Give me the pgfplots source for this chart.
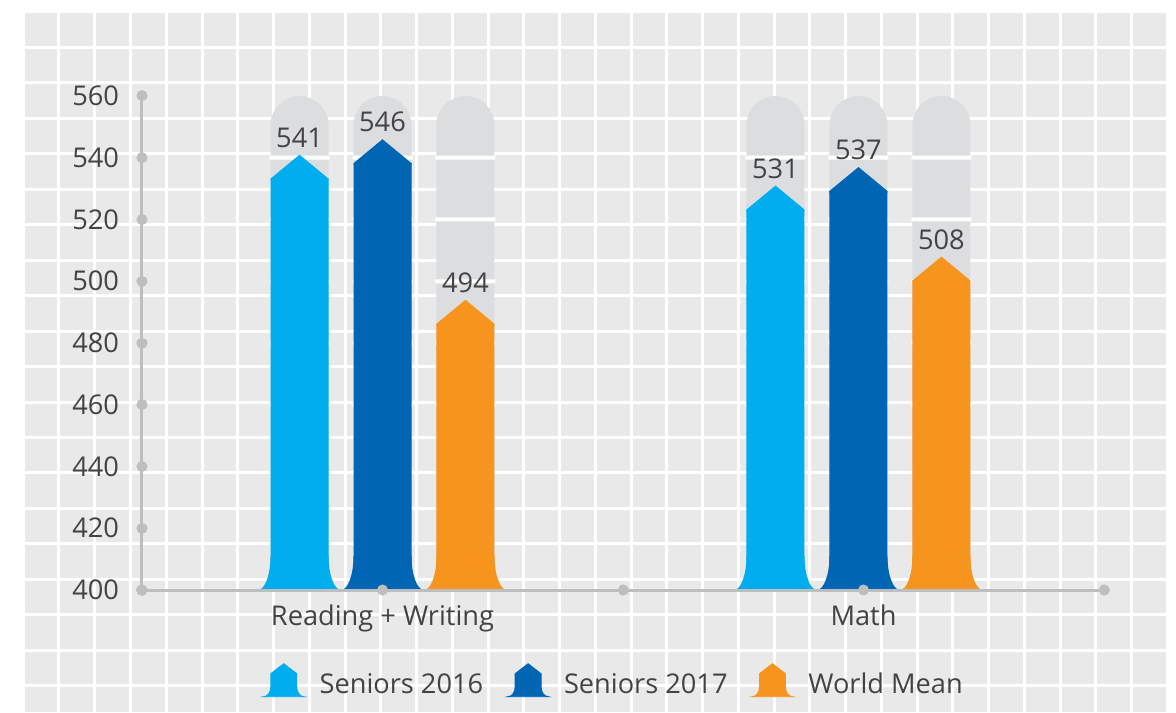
\documentclass[border=0pt]{standalone}
\usepackage{fontspec}
\setmainfont{Open Sans}
\usepackage{pgfplots}
\usepackage{pgfplotstable}
\pgfplotsset{compat=1.18}

\definecolor{cA}{HTML}{00AEEF}
\definecolor{cB}{HTML}{0066B3}
\definecolor{cC}{HTML}{F7941D}
\definecolor{bggray}{HTML}{E9E9EA}
\definecolor{pillgray}{HTML}{DCDDDF}
\definecolor{axisgray}{HTML}{BDBEC0}
\definecolor{txt}{HTML}{434345}

% pos = plotting position of the group centre (category ticks at 1 and 3)
\pgfplotstableread{
pos    s16  s17  wm
1      541  546  494
2.979  531  537  508
}\scores

% arrow-shaped top of a bar (tip at the data point)
\pgfdeclareplotmark{arrowtop}{%
  \pgfpathmoveto{\pgfqpoint{-14.5pt}{-13pt}}%
  \pgfpathlineto{\pgfqpoint{-14.5pt}{-12pt}}%
  \pgfpathlineto{\pgfqpoint{0pt}{0pt}}%
  \pgfpathlineto{\pgfqpoint{14.5pt}{-12pt}}%
  \pgfpathlineto{\pgfqpoint{14.5pt}{-13pt}}%
  \pgfpathclose
  \pgfusepathqfill}
% flared foot of a bar (at the base line)
\pgfdeclareplotmark{flare}{%
  \pgfpathmoveto{\pgfqpoint{-13.5pt}{0pt}}%
  \pgfpathlineto{\pgfqpoint{-20.75pt}{0pt}}%
  \pgfpatharc{270}{360}{6.25pt and 17pt}%
  \pgfpathlineto{\pgfqpoint{-13.5pt}{17pt}}%
  \pgfpathclose
  \pgfpathmoveto{\pgfqpoint{13.5pt}{0pt}}%
  \pgfpathlineto{\pgfqpoint{20.75pt}{0pt}}%
  \pgfpatharc{270}{180}{6.25pt and 17pt}%
  \pgfpathlineto{\pgfqpoint{13.5pt}{17pt}}%
  \pgfpathclose
  \pgfusepathqfill}
% grey rounded track behind a bar (top at the data point)
\pgfdeclareplotmark{pill}{%
  \pgfpathmoveto{\pgfqpoint{-14.5pt}{-14.5pt}}%
  \pgfpatharc{180}{0}{14.5pt}%
  \pgfpathlineto{\pgfqpoint{14.5pt}{-247pt}}%
  \pgfpathlineto{\pgfqpoint{-14.5pt}{-247pt}}%
  \pgfpathclose
  \pgfsetfillcolor{pillgray}\pgfusepathqfill
  \pgfpathrectangle{\pgfqpoint{-15pt}{-31.875pt}}{\pgfqpoint{30pt}{2pt}}%
  \pgfpathrectangle{\pgfqpoint{-15pt}{-62.75pt}}{\pgfqpoint{30pt}{2pt}}%
  \pgfpathrectangle{\pgfqpoint{-15pt}{-93.625pt}}{\pgfqpoint{30pt}{2pt}}%
  \pgfpathrectangle{\pgfqpoint{-15pt}{-124.5pt}}{\pgfqpoint{30pt}{2pt}}%
  \pgfpathrectangle{\pgfqpoint{-15pt}{-155.375pt}}{\pgfqpoint{30pt}{2pt}}%
  \pgfsetfillcolor{white}\pgfusepathqfill}

\newcommand{\legicon}[1]{%
  \fill[#1] (0pt,-6pt) .. controls (2.1pt,-6pt) and (3.75pt,-4pt) .. (3.75pt,-1pt)
    -- (3.75pt,5.5pt) -- (10.25pt,10.5pt) -- (16.75pt,5.5pt) -- (16.75pt,-1pt)
    .. controls (16.75pt,-4pt) and (18.4pt,-6pt) .. (20.5pt,-6pt) -- cycle;}

\begin{document}
\begin{tikzpicture}
\path[use as bounding box, fill=white] (-71pt,-61pt) rectangle (517pt,295pt);
\fill[bggray] (-58.5pt,-61pt) rectangle (512pt,288.5pt);
\begin{scope}
\clip (-58.5pt,-61pt) rectangle (512pt,288.5pt);
\foreach \k in {0,...,30}
  \draw[white, line width=1.5pt] ({-41.5pt+17.875pt*\k}, -61pt) -- ({-41.5pt+17.875pt*\k}, 288.5pt);
\foreach \k in {0,...,18}
  \draw[white, line width=1.5pt] (-58.5pt, {271.25pt-17.725pt*\k}) -- (512pt, {271.25pt-17.725pt*\k});
\end{scope}
\begin{axis}[
  at={(0pt,0pt)}, anchor=south west,
  x=120.25pt, y=1.54375pt,
  xmin=0, xmax=4, ymin=400, ymax=560,
  clip marker paths=true,
  axis x line=bottom, axis y line=left,
  axis line style={-, line width=1.5pt, axisgray},
  axis on top,
  xtick={0,1,2,3,4}, xticklabels={,Reading + Writing,,Math,},
  ytick={400,420,...,560},
  major tick length=0.01pt,
  tick align=center,
  tick style={line width=5.5pt, line cap=round, axisgray},
  ticklabel style={font=\fontsize{13.6}{16}\selectfont, text=txt},
  /pgf/number format/assume math mode=true,
  yticklabel style={xshift=-8pt},
  xticklabel style={yshift=-4pt},
  every node near coord/.append style={font=\fontsize{13.6}{16}\selectfont, text=txt},
  legend columns=3,
  legend style={at={(0.4915,-0.186)}, anchor=center, draw=none, fill=none,
    font=\fontsize{13.6}{16}\selectfont, text=txt,
    /tikz/every odd column/.append style={column sep=5.5pt},
    /tikz/every even column/.append style={column sep=10pt}},
]
% grey tracks
\addplot[only marks, mark=pill, forget plot] table[x expr=\thisrow{pos}-0.345, y expr=560] {\scores};
\addplot[only marks, mark=pill, forget plot] table[x expr=\thisrow{pos}, y expr=560] {\scores};
\addplot[only marks, mark=pill, forget plot] table[x expr=\thisrow{pos}+0.345, y expr=560] {\scores};
% bar bodies (up to the shoulders of the arrow tops)
\addplot[ybar, bar width=29pt, bar shift=0pt, fill=cA, draw=none, forget plot] table[x expr=\thisrow{pos}-0.345, y expr=\thisrow{s16}-7.77] {\scores};
\addplot[ybar, bar width=29pt, bar shift=0pt, fill=cB, draw=none, forget plot] table[x expr=\thisrow{pos}, y expr=\thisrow{s17}-7.77] {\scores};
\addplot[ybar, bar width=29pt, bar shift=0pt, fill=cC, draw=none, forget plot] table[x expr=\thisrow{pos}+0.345, y expr=\thisrow{wm}-7.77] {\scores};
% arrow tops with value labels
\addplot[only marks, mark=arrowtop, fill=cA, draw=none, mark options={fill=cA, draw=none}, nodes near coords, forget plot] table[x expr=\thisrow{pos}-0.345, y=s16] {\scores};
\addplot[only marks, mark=arrowtop, fill=cB, draw=none, mark options={fill=cB, draw=none}, nodes near coords, forget plot] table[x expr=\thisrow{pos}, y=s17] {\scores};
\addplot[only marks, mark=arrowtop, fill=cC, draw=none, mark options={fill=cC, draw=none}, nodes near coords, forget plot] table[x expr=\thisrow{pos}+0.345, y=wm] {\scores};
% flared feet
\addplot[only marks, mark=flare, fill=cA, draw=none, mark options={fill=cA, draw=none}, forget plot] table[x expr=\thisrow{pos}-0.345, y expr=400] {\scores};
\addplot[only marks, mark=flare, fill=cB, draw=none, mark options={fill=cB, draw=none}, forget plot] table[x expr=\thisrow{pos}, y expr=400] {\scores};
\addplot[only marks, mark=flare, fill=cC, draw=none, mark options={fill=cC, draw=none}, forget plot] table[x expr=\thisrow{pos}+0.345, y expr=400] {\scores};
% legend
\addlegendimage{legend image code/.code={\legicon{cA}}}
\addlegendentry{Seniors 2016}
\addlegendimage{legend image code/.code={\legicon{cB}}}
\addlegendentry{Seniors 2017}
\addlegendimage{legend image code/.code={\legicon{cC}}}
\addlegendentry{World Mean}
\end{axis}
\end{tikzpicture}
\end{document}
